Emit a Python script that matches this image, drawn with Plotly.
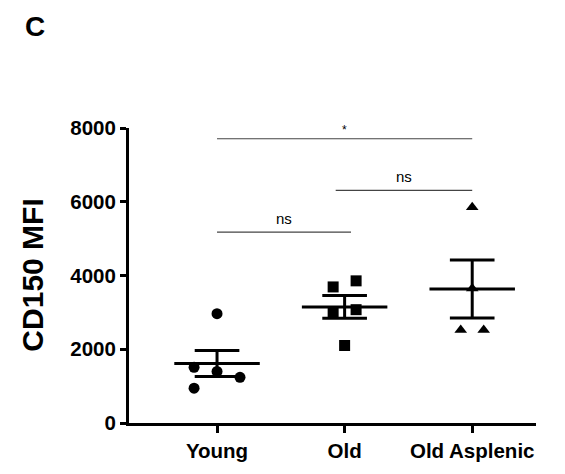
import numpy as np
import plotly.graph_objects as go

# CD150 MFI per mouse, by group
groups = ["Young", "Old", "Old Asplenic"]
young = [2965, 1510, 1400, 1240, 943]
old = [3690, 3855, 3019, 3073, 2102]
old_asplenic = [5850, 3650, 2520, 2520]
y_ticks = [0, 2000, 4000, 6000, 8000]

# horizontal scatter offsets (category units) so points don't overlap
young_dx = [0.0, -0.18, 0.0, 0.18, -0.18]
old_dx = [-0.09, 0.09, -0.09, 0.09, 0.0]
asplenic_dx = [0.0, 0.0, -0.09, 0.09]

# pairwise comparisons: (group a, group b, label)
comparisons = [("Young", "Old Asplenic", "*"),
               ("Old", "Old Asplenic", "ns"),
               ("Young", "Old", "ns")]
bar_heights = [7708, 6310, 5175]

FONT = "Liberation Sans, Arial, Helvetica, sans-serif"
series = [(young, young_dx, "circle"),
          (old, old_dx, "square"),
          (old_asplenic, asplenic_dx, "triangle-up")]

fig = go.Figure()

for gi, (vals, dx, sym) in enumerate(series):
    vals = np.asarray(vals, dtype=float)
    fig.add_trace(go.Scatter(
        x=[gi + d for d in dx], y=vals, mode="markers",
        marker=dict(symbol=sym, size=11, color="black", line=dict(width=0)),
        cliponaxis=False, showlegend=False, hoverinfo="y"))

    # mean with SEM whiskers
    m = vals.mean()
    sem = vals.std(ddof=1) / np.sqrt(len(vals))
    hw, cw = 0.335, 0.175
    xs = [gi - hw, gi + hw, None,
          gi, gi, None,
          gi - cw, gi + cw, None,
          gi - cw, gi + cw]
    ys = [m, m, None,
          m - sem, m + sem, None,
          m + sem, m + sem, None,
          m - sem, m - sem]
    fig.add_trace(go.Scatter(
        x=xs, y=ys, mode="lines", line=dict(color="black", width=3),
        cliponaxis=False, showlegend=False, hoverinfo="skip"))

# significance brackets
for (a, b, lab), h in zip(comparisons, bar_heights):
    xa, xb = groups.index(a), groups.index(b)
    if lab == "ns" and xa == 1:
        xa -= 0.07
    if lab == "ns" and xb == 1:
        xb += 0.05
    fig.add_shape(type="line", x0=xa, x1=xb, y0=h, y1=h, xref="x", yref="y",
                  line=dict(color="#444444", width=1.2))
    fig.add_annotation(x=(xa + xb) / 2, y=h, text=lab, showarrow=False,
                       yanchor="bottom", yshift=3 if lab == "ns" else 0,
                       font=dict(family=FONT, size=15 if lab == "ns" else 12,
                                 color="black"))

fig.add_annotation(text="CD150 MFI", xref="paper", yref="paper",
                   x=-0.238, y=0.5, textangle=-90, showarrow=False,
                   xanchor="center", yanchor="middle",
                   font=dict(family=FONT, size=30, color="black", weight="bold"))
fig.add_annotation(text="C", xref="paper", yref="paper",
                   x=-0.231, y=1.345, showarrow=False,
                   xanchor="center", yanchor="middle",
                   font=dict(family=FONT, size=28, color="black", weight="bold"))

fig.update_layout(
    width=565, height=474,
    margin=dict(l=129, r=29, t=128, b=49),
    paper_bgcolor="white", plot_bgcolor="white",
    showlegend=False,
    xaxis=dict(range=[-0.69, 2.5], tickmode="array", tickvals=[0, 1, 2],
               ticktext=groups, showline=True, linecolor="black", linewidth=3,
               ticks="outside", ticklen=7, tickwidth=3, tickcolor="black",
               showgrid=False, zeroline=False, fixedrange=True,
               tickfont=dict(family=FONT, size=20.5, color="black", weight="bold")),
    yaxis=dict(range=[0, 8000], tickmode="array", tickvals=y_ticks,
               ticktext=[str(v) for v in y_ticks], showline=True,
               linecolor="black", linewidth=3, ticks="outside", ticklen=6,
               tickwidth=3, tickcolor="black", showgrid=False, zeroline=False,
               fixedrange=True,
               tickfont=dict(family=FONT, size=20.5, color="black", weight="bold")),
)

fig.write_html("out.html")
